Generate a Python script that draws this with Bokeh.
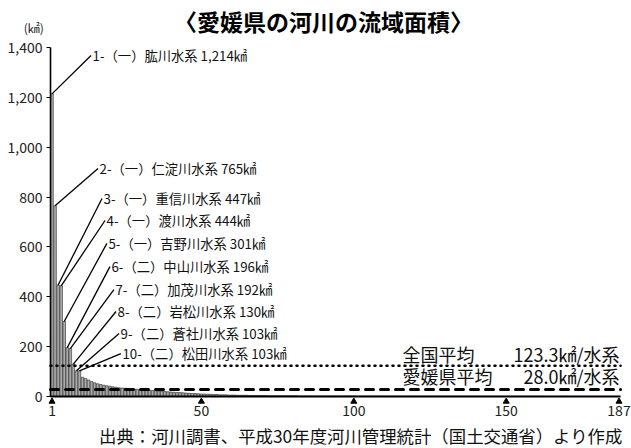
from bokeh.plotting import figure
from bokeh.models import Range1d, FixedTicker, NumeralTickFormatter, Label
from bokeh.embed import file_html
from bokeh.resources import INLINE

FONT = "Noto Sans CJK JP"

title_text = "〈愛媛県の河川の流域面積〉"
unit_text = "(㎢)"
source_text = "出典：河川調書、平成30年度河川管理統計（国土交通省）より作成"

# top-10 river systems (rank order)
top_names = ["（一）肱川水系", "（一）仁淀川水系", "（一）重信川水系", "（一）渡川水系",
             "（一）吉野川水系", "（二）中山川水系", "（二）加茂川水系", "（二）岩松川水系",
             "（二）蒼社川水系", "（二）松田川水系"]

# basin area (km2) of the 187 river systems, sorted descending
areas = [1214, 765, 447, 444, 301, 196, 192, 130, 103, 103,
         77, 72, 66, 60, 55, 51, 48, 45, 43, 41,
         39, 37, 35, 34, 33, 32, 31, 30, 29, 28,
         27, 26, 25, 24, 23, 22, 21, 20, 19, 18,
         17, 16, 16, 15, 14, 13, 12, 12, 11, 10,
         10, 9, 9, 8, 8, 7, 7, 7, 6, 6,
         6, 5, 5, 5, 5, 4, 4, 4, 4, 4,
         4, 3, 3, 3, 3, 3, 3, 3, 3, 3,
         3, 2, 2, 2, 2, 2, 2, 2, 2, 2,
         2, 2, 2, 2, 2, 2, 2, 2, 2, 2,
         1.5, 1.5, 1.5, 1.5, 1.5, 1.5, 1.5, 1.5, 1.5, 1.5,
         1.2, 1.2, 1.2, 1.2, 1.2, 1.2, 1.2, 1.2, 1.2, 1.2,
         1.0, 1.0, 1.0, 1.0, 1.0, 1.0, 1.0, 1.0, 1.0, 1.0,
         1.0, 1.0, 1.0, 1.0, 1.0, 1.0, 1.0, 1.0, 1.0, 1.0,
         0.8, 0.8, 0.8, 0.8, 0.8, 0.8, 0.8, 0.8, 0.8, 0.8,
         0.8, 0.8, 0.8, 0.8, 0.8, 0.8, 0.8, 0.8, 0.8, 0.8,
         0.6, 0.6, 0.6, 0.6, 0.6, 0.6, 0.6, 0.6, 0.6, 0.6,
         0.5, 0.5, 0.5, 0.5, 0.5, 0.5, 0.5, 0.5, 0.5, 0.5,
         0.4, 0.4, 0.4, 0.4, 0.4, 0.4, 0.4]
ranks = list(range(1, len(areas) + 1))

national_label = "全国平均"
national_avg = 123.3
ehime_label = "愛媛県平均"
ehime_avg = 28.0

x_ticks = [1, 50, 100, 150, 187]
y_ticks = [0, 200, 400, 600, 800, 1000, 1200, 1400]

# annotation layout (data units) for the top-10 callouts
label_x = [14.3, 16.6, 17.9, 18.9, 19.5, 20.5, 21.8, 22.5, 23.5, 24.1]
label_y = [1368, 915, 794, 706, 614, 521, 429, 341, 253, 172]

# the frame covers the whole canvas; axes are drawn at fixed data locations
p = figure(width=631, height=448, x_range=Range1d(-15.9, 191.1), y_range=Range1d(-208.6, 1588.5),
           output_backend="svg", toolbar_location=None, min_border=0)
p.outline_line_color = None
p.xgrid.grid_line_color = None
p.ygrid.grid_line_color = None
p.background_fill_color = "white"

p.vbar(x=ranks, top=areas, width=0.85, fill_color="#ababab", line_color="#2a2a2a", line_width=0.6)

# average lines
p.line(x=[0.5, 187.5], y=[national_avg, national_avg], line_color="black",
       line_width=2.5, line_dash="1 5", line_cap="round")
p.line(x=[0.5, 187.5], y=[ehime_avg, ehime_avg], line_color="black",
       line_width=3, line_dash="8 7", line_cap="round")

# leader lines from bar tops to labels
n = len(top_names)
p.segment(x0=ranks[:n], y0=areas[:n], x1=[x - 0.5 for x in label_x], y1=label_y,
          line_color="black", line_width=1.3)

for i in range(n):
    p.add_layout(Label(x=label_x[i], y=label_y[i],
                       text=f"{i + 1}-{top_names[i]} {areas[i]:,}㎢",
                       text_font=FONT, text_font_size="13.3px", text_color="#111111",
                       text_align="left", text_baseline="middle"))

# average labels
for name, val, yy in [(national_label, national_avg, 172), (ehime_label, ehime_avg, 83)]:
    p.add_layout(Label(x=116, y=yy, text=name, text_font=FONT, text_font_size="18px",
                       text_color="#111111", text_align="left", text_baseline="middle"))
    p.add_layout(Label(x=187.2, y=yy, text=f"{val:.1f}㎢/水系", text_font=FONT,
                       text_font_size="18px", text_color="#111111",
                       text_align="right", text_baseline="middle"))

# axes
p.xaxis.fixed_location = 0
p.xaxis.bounds = (0.5, 187.5)
p.xaxis.ticker = FixedTicker(ticks=x_ticks)
p.xaxis.axis_line_width = 2.2
p.xaxis.axis_line_color = "black"
p.xaxis.major_tick_line_color = None
p.xaxis.minor_tick_line_color = None
p.xaxis.major_tick_out = 0
p.xaxis.major_tick_in = 0
p.xaxis.major_label_standoff = 9
p.xaxis.major_label_text_font = FONT
p.xaxis.major_label_text_font_size = "14px"
p.xaxis.major_label_text_color = "#222222"

p.yaxis.fixed_location = 0.5
p.yaxis.bounds = (0, 1400)
p.yaxis.ticker = FixedTicker(ticks=y_ticks)
p.yaxis.formatter = NumeralTickFormatter(format="0,0")
p.yaxis.axis_line_width = 1.6
p.yaxis.axis_line_color = "black"
p.yaxis.major_tick_out = 4
p.yaxis.major_tick_in = 0
p.yaxis.major_tick_line_width = 1.2
p.yaxis.minor_tick_line_color = None
p.yaxis.major_label_standoff = 4
p.yaxis.major_label_text_font = FONT
p.yaxis.major_label_text_font_size = "14px"
p.yaxis.major_label_text_color = "#222222"

# tick markers (triangles) below the x axis
p.scatter(x=x_ticks, y=[-20] * len(x_ticks), marker="triangle", size=6,
          fill_color="black", line_color="black")

# title, unit, source
p.add_layout(Label(x=90.1, y=1508, text=title_text, text_font=FONT, text_font_size="23px",
                   text_font_style="bold", text_align="center", text_baseline="middle",
                   text_color="black"))
p.add_layout(Label(x=-5.0, y=1480, text=unit_text, text_font=FONT, text_font_size="12px",
                   text_align="center", text_baseline="middle", text_color="#222222"))
p.add_layout(Label(x=188.2, y=-156, text=source_text, text_font=FONT, text_font_size="17.4px",
                   text_align="right", text_baseline="middle", text_color="#111111"))

open("out.html", "w").write(file_html(p, INLINE))
